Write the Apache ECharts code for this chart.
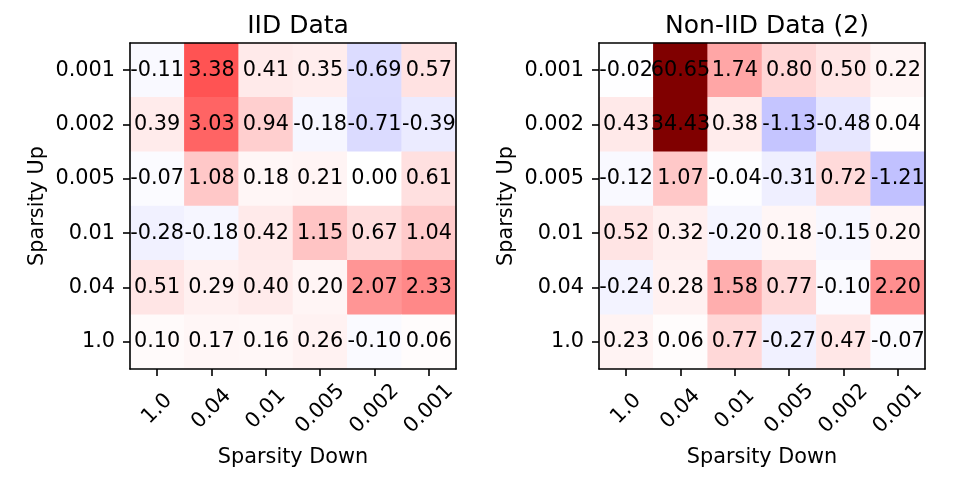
<!DOCTYPE html>
<html>
<head>
<meta charset="utf-8">
<script src="https://cdn.jsdelivr.net/npm/echarts@6/dist/echarts.min.js"></script>
<style>
html, body { margin: 0; padding: 0; background: #fff; }
#main { width: 960px; height: 480px; }
</style>
</head>
<body>
<div id="main"></div>
<script>
// 坐标刻度
var downCats = ['1.0', '0.04', '0.01', '0.005', '0.002', '0.001'];
var upCats = ['0.001', '0.002', '0.005', '0.01', '0.04', '1.0'];

// IID 数据, 每行对应 upCats 的一项
var iidRows = [
	[-0.11, 3.38, 0.41, 0.35, -0.69, 0.57],
	[0.39, 3.03, 0.94, -0.18, -0.71, -0.39],
	[-0.07, 1.08, 0.18, 0.21, 0.00, 0.61],
	[-0.28, -0.18, 0.42, 1.15, 0.67, 1.04],
	[0.51, 0.29, 0.40, 0.20, 2.07, 2.33],
	[0.10, 0.17, 0.16, 0.26, -0.10, 0.06]
];

// Non-IID 数据
var nonIidRows = [
	[-0.02, 60.65, 1.74, 0.80, 0.50, 0.22],
	[0.43, 34.43, 0.38, -1.13, -0.48, 0.04],
	[-0.12, 1.07, -0.04, -0.31, 0.72, -1.21],
	[0.52, 0.32, -0.20, 0.18, -0.15, 0.20],
	[-0.24, 0.28, 1.58, 0.77, -0.10, 2.20],
	[0.23, 0.06, 0.77, -0.27, 0.47, -0.07]
];

var FONT = 'DejaVu Sans';

function toCells(rows) {
	var cells = [];
	for (var y = 0; y < rows.length; y++) {
		for (var x = 0; x < rows[y].length; x++) {
			cells.push([x, y, rows[y][x]]);
		}
	}
	return cells;
}

// 一个子图的四条坐标轴 (下/左 带刻度, 上/右 只画框线)
function makeAxes(gi) {
	var line = { show: true, lineStyle: { color: '#000', width: 1.6 } };
	var xs = [{
		type: 'category', gridIndex: gi, data: downCats, z: 10,
		axisLine: line,
		axisTick: { show: true, alignWithLabel: true, length: 7, lineStyle: { color: '#000', width: 1.6 } },
		axisLabel: {
			interval: 0, rotate: 45, align: 'center', verticalAlign: 'middle', margin: 40,
			color: '#000', fontFamily: FONT, fontSize: 20.8
		},
		splitLine: { show: false },
		name: 'Sparsity Down', nameLocation: 'middle', nameGap: 78,
		nameTextStyle: { color: '#000', fontFamily: FONT, fontSize: 20.8 }
	}, {
		type: 'category', gridIndex: gi, data: downCats, position: 'top', z: 10,
		axisLine: line, axisTick: { show: false }, axisLabel: { show: false }
	}];
	var ys = [{
		type: 'category', gridIndex: gi, data: upCats, inverse: true, z: 10,
		axisLine: line,
		axisTick: { show: true, alignWithLabel: true, length: 7, lineStyle: { color: '#000', width: 1.6 } },
		axisLabel: { interval: 0, margin: 15, color: '#000', fontFamily: FONT, fontSize: 20.8 },
		splitLine: { show: false },
		name: 'Sparsity Up', nameLocation: 'middle', nameGap: 82,
		nameTextStyle: { color: '#000', fontFamily: FONT, fontSize: 20.8 }
	}, {
		type: 'category', gridIndex: gi, data: upCats, inverse: true, position: 'right', z: 10,
		axisLine: line, axisTick: { show: false }, axisLabel: { show: false }
	}];
	return { x: xs, y: ys };
}

var a0 = makeAxes(0);
var a1 = makeAxes(1);

function heatSeries(idx, rows) {
	return {
		type: 'heatmap',
		xAxisIndex: idx * 2,
		yAxisIndex: idx * 2,
		data: toCells(rows),
		label: {
			show: true,
			color: '#000',
			fontFamily: FONT,
			fontSize: 20.8,
			formatter: function (p) { return p.value[2].toFixed(2); }
		},
		emphasis: { disabled: true }
	};
}

var myChart = echarts.init(document.getElementById('main'));
var option = {
	backgroundColor: '#fff',
	animation: false,
	title: [{
		text: 'IID Data', left: 293, top: 9, textAlign: 'center',
		textStyle: { color: '#000', fontFamily: FONT, fontSize: 25, fontWeight: 'normal' }
	}, {
		text: 'Non-IID Data (2)', left: 762, top: 9, textAlign: 'center',
		textStyle: { color: '#000', fontFamily: FONT, fontSize: 25, fontWeight: 'normal' }
	}],
	grid: [
		{ left: 130, top: 43, width: 326, height: 326 },
		{ left: 599, top: 43, width: 326, height: 326 }
	],
	xAxis: a0.x.concat(a1.x),
	yAxis: a0.y.concat(a1.y),
	// seismic 色表, 范围 -10 ~ 10
	visualMap: {
		show: false,
		type: 'continuous',
		min: -10,
		max: 10,
		seriesIndex: [0, 1],
		inRange: { color: ['#00004d', '#0000ff', '#ffffff', '#ff0000', '#800000'] },
		outOfRange: { color: '#800000' }
	},
	series: [heatSeries(0, iidRows), heatSeries(1, nonIidRows)]
};
// 修正第二个子图的坐标轴索引
option.xAxis[2].gridIndex = 1;
option.xAxis[3].gridIndex = 1;
option.yAxis[2].gridIndex = 1;
option.yAxis[3].gridIndex = 1;
myChart.setOption(option);
</script>
</body>
</html>
